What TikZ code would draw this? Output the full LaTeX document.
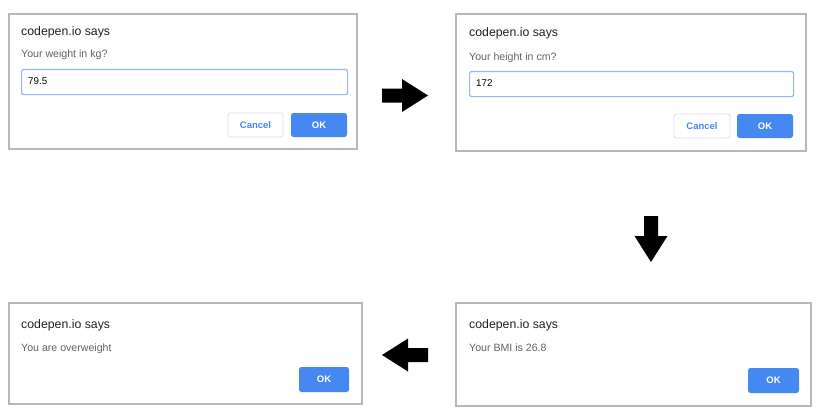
\documentclass[tikz,border=0pt]{standalone}
\usepackage{fontspec}
\setmainfont{Liberation Sans}
\usepackage{tikz}

\definecolor{framegray}{RGB}{184,184,184}
\definecolor{fieldblue}{RGB}{146,184,242}
\definecolor{okblue}{RGB}{70,136,241}
\definecolor{titlegray}{RGB}{32,33,36}
\definecolor{askgray}{RGB}{95,99,104}
\definecolor{cancelgray}{RGB}{222,224,228}

\begin{document}
\begin{tikzpicture}[
            x=1pt, y=-1pt,
            alertbox/.style={
                draw=framegray,
                line width=1.2pt,
                fill=white,
                anchor=north west,
                inner sep=0pt, outer sep=0pt
            },
            title/.style={anchor=base west, inner sep=0pt, text=titlegray, font=\fontsize{12.3}{14}\selectfont},
            asktext/.style={anchor=base west, inner sep=0pt, text=askgray, font=\fontsize{10.6}{13}\selectfont},
            field/.style={draw=fieldblue, line width=1.2pt, rounded corners=2pt, anchor=north west, inner sep=0pt},
            value/.style={anchor=base west, inner sep=0pt, font=\fontsize{9.8}{12}\selectfont},
            okbtn/.style={
                fill=okblue,
                rounded corners=2.5pt,
                text=white,
                minimum height=24,
                inner sep=0pt,
                font=\bfseries\fontsize{9.5}{12}\selectfont
            },
            cancelbtn/.style={
                draw=cancelgray,
                line width=0.8pt,
                rounded corners=2.5pt,
                text=okblue,
                minimum height=24,
                inner sep=0pt,
                font=\bfseries\fontsize{9.5}{12}\selectfont
            },
            blockarrow/.pic={
                \fill (-23,-7) -- (-3,-7) -- (-3,-16.5) -- (23,0) -- (-3,16.5) -- (-3,7) -- (-23,7) -- cycle;
            }
        ]
        \useasboundingbox (0,0) rectangle (822,412);
        % weight prompt
        \begin{scope}[shift={(9,14)}]
            \node[alertbox, minimum width=348, minimum height=135] (weight) at (0,0) {};
            \node[title] (weight-title) at (12,22) {codepen.io says};
            \node[asktext] (weight-ask) at (12,44) {Your weight in kg?};
            \node[field, minimum width=326, minimum height=25] (weight-field) at (12,55) {};
            \node[value] (weight-value) at (19,70.5) {79.5};
            \node[cancelbtn, minimum width=55] (weight-cancel) at (246.5,111) {Cancel};
            \node[okbtn, minimum width=56] (weight-ok) at (310,111) {OK};
        \end{scope}
        % height prompt
        \begin{scope}[shift={(456,14)}]
            \node[alertbox, minimum width=350, minimum height=137] (height) at (0,0) {};
            \node[title] (height-title) at (13,23) {codepen.io says};
            \node[asktext] (height-ask) at (13,46.5) {Your height in cm?};
            \node[field, minimum width=324, minimum height=25] (height-field) at (13,57) {};
            \node[value] (height-value) at (20,72) {172};
            \node[cancelbtn, minimum width=56] (height-cancel) at (246,112) {Cancel};
            \node[okbtn, minimum width=56] (height-ok) at (309,112) {OK};
        \end{scope}
        % result
        \begin{scope}[shift={(456,303)}]
            \node[alertbox, minimum width=355, minimum height=103] (bmi) at (0,0) {};
            \node[title] (bmi-title) at (13,25) {codepen.io says};
            \node[asktext] (bmi-text) at (13,48) {Your BMI is 26.8};
            \node[okbtn, minimum width=51, minimum height=25] (bmi-ok) at (317.5,77.5) {OK};
        \end{scope}
        % verdict
        \begin{scope}[shift={(9,303)}]
            \node[alertbox, minimum width=353, minimum height=101] (verdict) at (0,0) {};
            \node[title] (verdict-title) at (12,25) {codepen.io says};
            \node[asktext] (verdict-text) at (12,48) {You are overweight};
            \node[okbtn, minimum width=50, minimum height=25] (verdict-ok) at (315,76.5) {OK};
        \end{scope}
        % arrows
        \pic (toheight) at (405,95.5) {blockarrow};
        \pic[rotate=-90] (tobmi) at (651,239) {blockarrow};
        \pic[rotate=180] (toverdict) at (405,355) {blockarrow};
\end{tikzpicture}
\end{document}
